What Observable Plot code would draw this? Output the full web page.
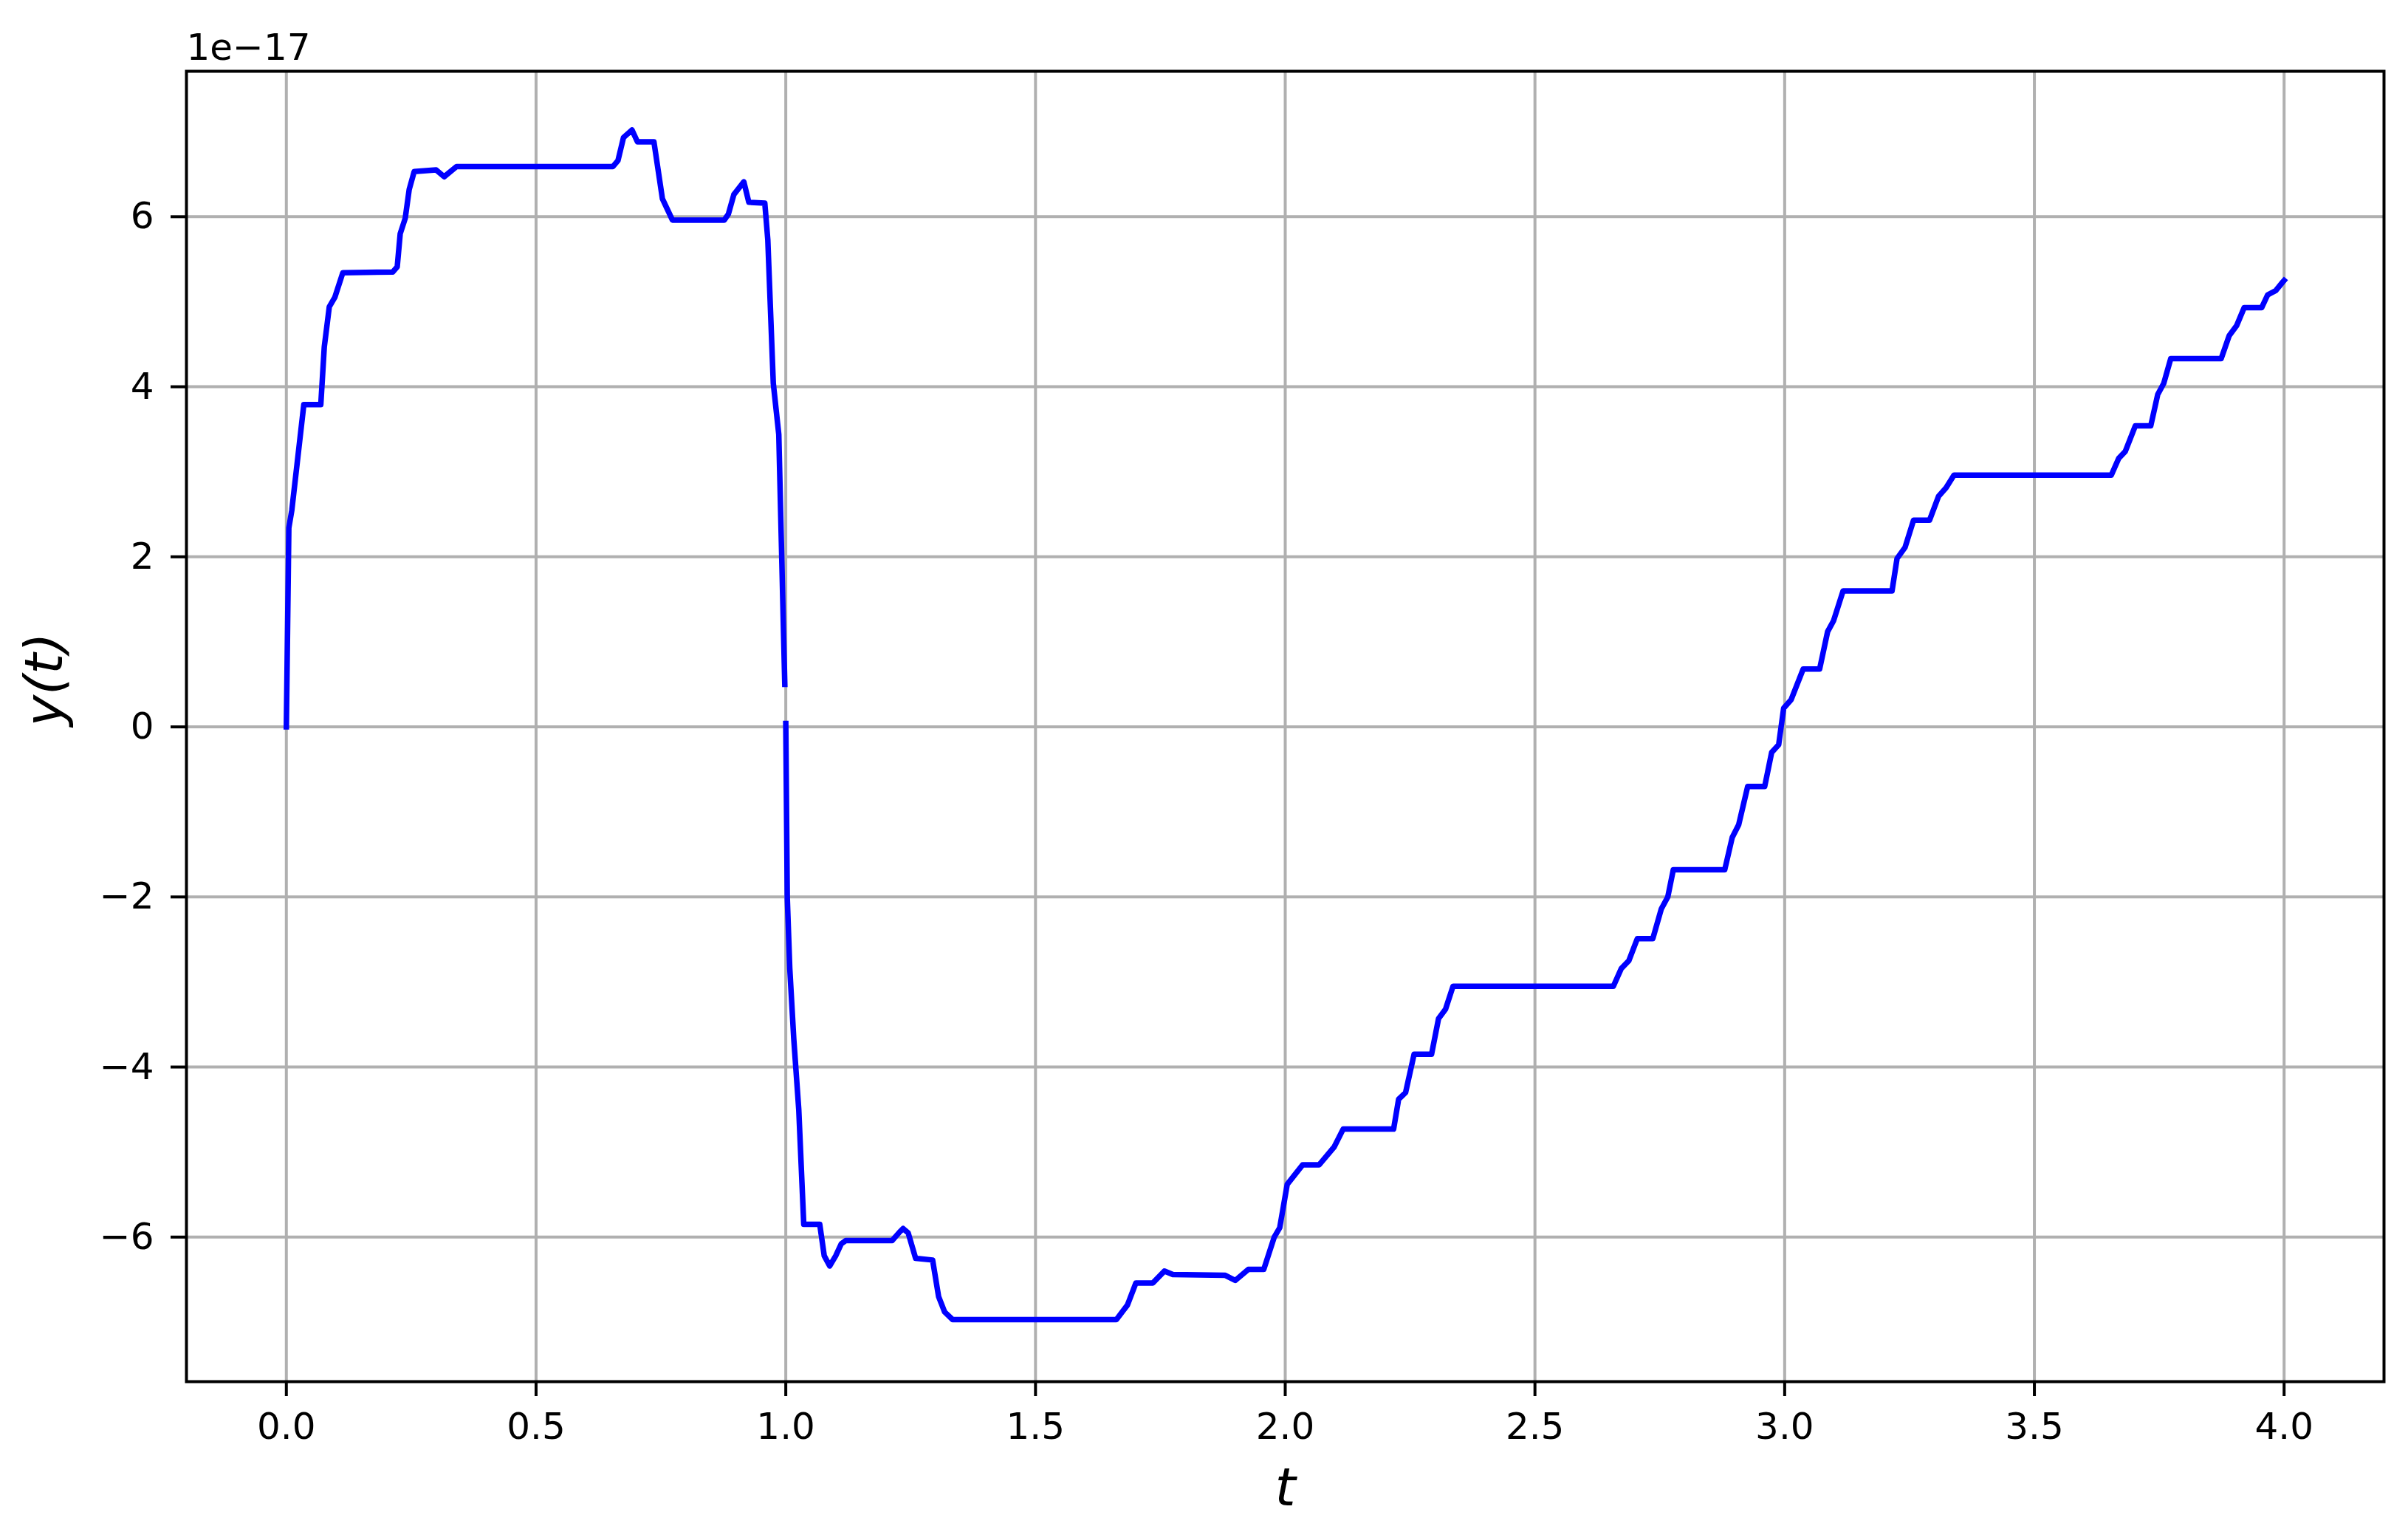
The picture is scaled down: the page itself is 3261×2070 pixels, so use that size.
<!DOCTYPE html>
<html>
<head>
<meta charset="utf-8">
<script src="https://cdn.jsdelivr.net/npm/d3@7"></script>
<script src="https://cdn.jsdelivr.net/npm/@observablehq/plot@0.6"></script>
<style>
  html, body { margin: 0; padding: 0; background: #ffffff; }
  #chart svg { display: block; }
</style>
</head>
<body>
<div id="chart"></div>
<script>
// Values of y(t), in units of 1e-17 (the axis offset). NaN marks the break at t = 1.
const tValues = [
  0, 0.005, 0.011, 0.035, 0.069, 0.076, 0.086, 0.097, 0.113, 0.213, 0.222, 0.228, 0.238, 0.246, 0.256, 0.3, 0.316, 0.341,
  0.654, 0.664, 0.675, 0.692, 0.703, 0.736, 0.753, 0.773, 0.877, 0.885, 0.896, 0.916, 0.926, 0.958, 0.964, 0.975, 0.986, 0.998,
  0.999,
  1.0, 1.003, 1.008, 1.016, 1.026, 1.036, 1.068, 1.077, 1.088, 1.1, 1.111, 1.12, 1.213, 1.228, 1.235, 1.245, 1.26, 1.294,
  1.306, 1.318, 1.334, 1.662, 1.684, 1.701, 1.735, 1.758, 1.775, 1.88, 1.9, 1.926, 1.957, 1.978, 1.989, 2.004, 2.035, 2.068,
  2.098, 2.116, 2.217, 2.227, 2.241, 2.258, 2.293, 2.307, 2.321, 2.336, 2.657, 2.673, 2.688, 2.705, 2.736, 2.753, 2.766, 2.777,
  2.88, 2.895, 2.908, 2.926, 2.96, 2.974, 2.988, 2.998, 3.013, 3.037, 3.07, 3.086, 3.098, 3.117, 3.215, 3.225, 3.241, 3.258,
  3.29, 3.308, 3.323, 3.339, 3.654, 3.669, 3.682, 3.702, 3.733, 3.747, 3.759, 3.773, 3.874, 3.89, 3.905, 3.92, 3.955, 3.967,
  3.983, 3.997, 4.0
];
const yValues = [
  0, 2.34, 2.55, 3.79, 3.79, 4.47, 4.94, 5.05, 5.34, 5.35, 5.41, 5.8, 5.98, 6.32, 6.53, 6.55, 6.47, 6.59,
  6.59, 6.66, 6.93, 7.02, 6.88, 6.88, 6.21, 5.96, 5.96, 6.03, 6.26, 6.41, 6.17, 6.16, 5.73, 4.04, 3.44, 0.5,
  NaN,
  0.04, -2.01, -2.84, -3.67, -4.5, -5.85, -5.85, -6.22, -6.34, -6.22, -6.08, -6.04, -6.04, -5.94, -5.9, -5.95, -6.25, -6.27,
  -6.7, -6.88, -6.97, -6.97, -6.8, -6.54, -6.54, -6.4, -6.44, -6.45, -6.51, -6.38, -6.38, -6.0, -5.89, -5.38, -5.15, -5.15,
  -4.94, -4.73, -4.73, -4.38, -4.3, -3.85, -3.85, -3.43, -3.32, -3.05, -3.05, -2.84, -2.75, -2.49, -2.49, -2.14, -2.0, -1.68,
  -1.68, -1.3, -1.15, -0.7, -0.7, -0.3, -0.21, 0.22, 0.32, 0.68, 0.68, 1.12, 1.25, 1.6, 1.6, 1.98, 2.11, 2.43,
  2.43, 2.71, 2.81, 2.96, 2.96, 3.16, 3.24, 3.54, 3.54, 3.91, 4.04, 4.33, 4.33, 4.6, 4.72, 4.93, 4.93, 5.08,
  5.13, 5.23, 5.25
];
const xTicks = [0, 0.5, 1.0, 1.5, 2.0, 2.5, 3.0, 3.5, 4.0];
const yTicks = [-6, -4, -2, 0, 2, 4, 6];
const offsetLabel = "1e\u221217";
const xLabel = "t";
const yLabel = "y(t)";

const data = tValues.map((t, i) => ({t, y: yValues[i]}));

const gridStyle = {stroke: "#b0b0b0", strokeOpacity: 1, strokeWidth: 4};

const chart = Plot.plot({
  width: 3261,
  height: 2070,
  marginLeft: 252,
  marginRight: 33,
  marginTop: 96,
  marginBottom: 200,
  style: {fontFamily: "'DejaVu Sans', sans-serif", fontSize: "50px", background: "#ffffff", color: "#000000"},
  x: {domain: [-0.2, 4.2]},
  y: {domain: [-7.7, 7.71]},
  marks: [
    Plot.gridX(xTicks, gridStyle),
    Plot.gridY(yTicks, gridStyle),
    Plot.line(data, {
      x: "t", y: "y", stroke: "#0000ff", strokeWidth: 7.5,
      strokeLinejoin: "round", strokeLinecap: "square", curve: "linear"
    }),
    Plot.frame({stroke: "#000000", strokeWidth: 4}),
    Plot.axisX(xTicks, {
      tickSize: 20, tickPadding: 22, strokeWidth: 4, fontSize: 50,
      tickFormat: d3.format(".1f"), label: null
    }),
    Plot.axisY(yTicks, {
      tickSize: 21, tickPadding: 23, strokeWidth: 4, fontSize: 50,
      tickFormat: d => (d < 0 ? "\u2212" + Math.abs(d) : String(d)), label: null
    }),
    Plot.text([offsetLabel], {
      text: d => d, frameAnchor: "top-left", textAnchor: "start", lineAnchor: "bottom",
      dy: -16, fontSize: 50
    }),
    Plot.text([xLabel], {
      text: d => d, frameAnchor: "bottom", lineAnchor: "bottom", dy: 167,
      fontSize: 72, fontStyle: "italic"
    }),
    Plot.text([yLabel], {
      text: d => d, frameAnchor: "left", lineAnchor: "bottom", rotate: -90, dx: -169,
      fontSize: 72, fontStyle: "italic"
    })
  ]
});

document.getElementById("chart").appendChild(chart);
</script>
</body>
</html>
